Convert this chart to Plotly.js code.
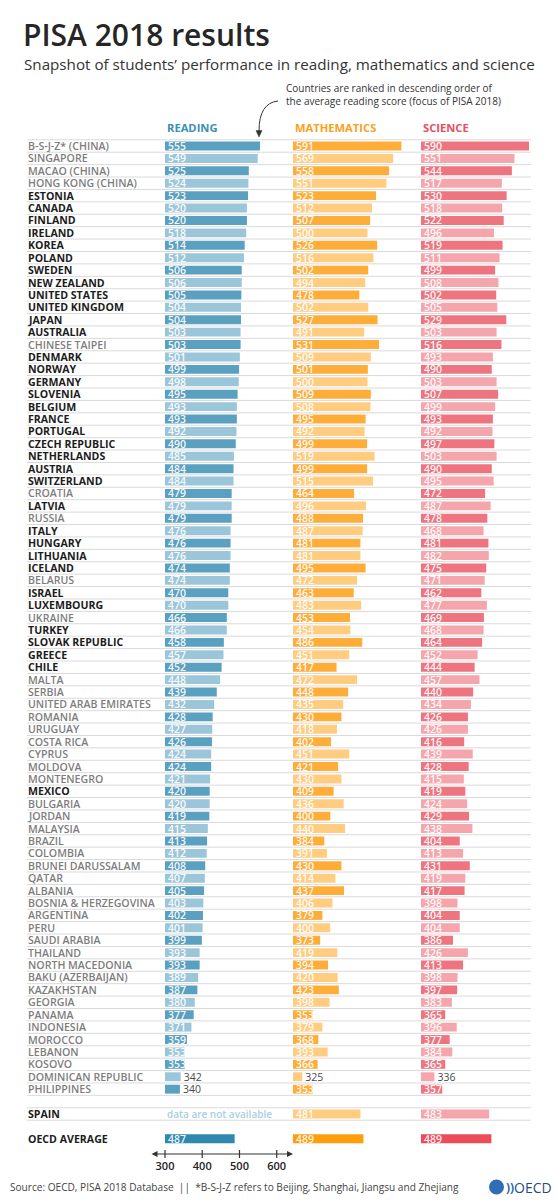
<!DOCTYPE html>
<html><head><meta charset="utf-8">
<script src="https://cdn.plot.ly/plotly-3.0.1.min.js"></script>
<style>html,body{margin:0;padding:0;background:#fff}</style>
</head><body><div id="chart" style="width:556px;height:1200px"></div>
<script>
// ---------------- DATA ----------------
const countries = ['B-S-J-Z* (CHINA)','SINGAPORE','MACAO (CHINA)','HONG KONG (CHINA)','ESTONIA','CANADA','FINLAND','IRELAND','KOREA','POLAND','SWEDEN','NEW ZEALAND','UNITED STATES','UNITED KINGDOM','JAPAN','AUSTRALIA','CHINESE TAIPEI','DENMARK','NORWAY','GERMANY','SLOVENIA','BELGIUM','FRANCE','PORTUGAL','CZECH REPUBLIC','NETHERLANDS','AUSTRIA','SWITZERLAND','CROATIA','LATVIA','RUSSIA','ITALY','HUNGARY','LITHUANIA','ICELAND','BELARUS','ISRAEL','LUXEMBOURG','UKRAINE','TURKEY','SLOVAK REPUBLIC','GREECE','CHILE','MALTA','SERBIA','UNITED ARAB EMIRATES','ROMANIA','URUGUAY','COSTA RICA','CYPRUS','MOLDOVA','MONTENEGRO','MEXICO','BULGARIA','JORDAN','MALAYSIA','BRAZIL','COLOMBIA','BRUNEI DARUSSALAM','QATAR','ALBANIA','BOSNIA & HERZEGOVINA','ARGENTINA','PERU','SAUDI ARABIA','THAILAND','NORTH MACEDONIA','BAKU (AZERBAIJAN)','KAZAKHSTAN','GEORGIA','PANAMA','INDONESIA','MOROCCO','LEBANON','KOSOVO','DOMINICAN REPUBLIC','PHILIPPINES'];
const reading = [555,549,525,524,523,520,520,518,514,512,506,506,505,504,504,503,503,501,499,498,495,493,493,492,490,485,484,484,479,479,479,476,476,476,474,474,470,470,466,466,458,457,452,448,439,432,428,427,426,424,424,421,420,420,419,415,413,412,408,407,405,403,402,401,399,393,393,389,387,380,377,371,359,353,353,342,340];
const mathematics = [591,569,558,551,523,512,507,500,526,516,502,494,478,502,527,491,531,509,501,500,509,508,495,492,499,519,499,515,464,496,488,487,481,481,495,472,463,483,453,454,486,451,417,472,448,435,430,418,402,451,421,430,409,436,400,440,384,391,430,414,437,406,379,400,373,419,394,420,423,398,353,379,368,393,366,325,353];
const science = [590,551,544,517,530,518,522,496,519,511,499,508,502,505,529,503,516,493,490,503,507,499,493,492,497,503,490,495,472,487,478,468,481,482,475,471,462,477,469,468,464,452,444,457,440,434,426,426,416,439,428,415,419,424,429,438,404,413,431,419,417,398,404,404,386,426,413,398,397,383,365,396,377,384,365,336,357];
const oecdMembers = ['ESTONIA','CANADA','FINLAND','IRELAND','KOREA','POLAND','SWEDEN','NEW ZEALAND','UNITED STATES','UNITED KINGDOM','JAPAN','AUSTRALIA','DENMARK','NORWAY','GERMANY','SLOVENIA','BELGIUM','FRANCE','PORTUGAL','CZECH REPUBLIC','NETHERLANDS','AUSTRIA','SWITZERLAND','LATVIA','ITALY','HUNGARY','LITHUANIA','ICELAND','ISRAEL','LUXEMBOURG','TURKEY','SLOVAK REPUBLIC','GREECE','CHILE','MEXICO','SPAIN','OECD AVERAGE'];
const extraRows = ['SPAIN','OECD AVERAGE'];
const extraReading = [null, 487];
const extraMathematics = [481, 489];
const extraScience = [483, 489];
const subjects = ['READING','MATHEMATICS','SCIENCE'];
const axisTicks = [300, 400, 500, 600];
const missingText = 'data are not available';
const noteLines = ['Countries are ranked in descending order of', 'the average reading score (focus of PISA 2018)'];
const titleText = 'PISA 2018 results';
const subtitleText = 'Snapshot of students\u2019 performance in reading, mathematics and science';
const sourceText = 'Source: OECD, PISA 2018 Database  ||  *B-S-J-Z refers to Beijing, Shanghai, Jiangsu and Zhejiang';

// ---------------- LAYOUT GEOMETRY ----------------
const W = 556, H = 1200;
const FONT = 'Open Sans, sans-serif';
const ROW0 = 146, PITCH = 12.41;
const X_MIN = 300, X_MAX = 641;
const PANEL_LEFT = [165, 293, 421], PANEL_W = 127;
const SCALE = PANEL_W / (X_MAX - X_MIN);
const px = v => v / W, py = v => 1 - v / H;

const palettes = [
  {dark:'#5aa0c0', light:'#9bc6da', avg:'#2f88ad', head:'#3b90b4'},
  {dark:'#ffad39', light:'#ffcc80', avg:'#ff9d0a', head:'#f8a11b'},
  {dark:'#ee7480', light:'#f5a6ad', avg:'#ec4c58', head:'#e8505c'}
];
const series = [reading, mathematics, science];
const extras = [extraReading, extraMathematics, extraScience];
const axisIds = ['x','x2','x3'];
const rows = countries.map((_, i) => i);
const extraPos = [countries.length + 1, countries.length + 3];

const traces = [];
series.forEach((vals, k) => {
  const pal = palettes[k];
  traces.push({
    type:'bar', orientation:'h', xaxis:axisIds[k], yaxis:'y',
    y: rows, x: vals.map(v => v - X_MIN), base: X_MIN,
    text: vals.map(String),
    textposition: vals.map(v => v < 345 ? 'outside' : 'inside'),
    insidetextanchor:'start', textangle:0, constraintext:'none', cliponaxis:false,
    insidetextfont:{family:FONT, size:10.5, color:'rgba(255,255,255,0.95)', weight:600},
    outsidetextfont:{family:FONT, size:10.5, color:'#4a4a4a', weight:500},
    marker:{color: rows.map(i => i % 2 === 0 ? pal.dark : pal.light), line:{width:0}},
    width:0.72, hoverinfo:'skip', showlegend:false
  });
  const ev = extras[k];
  traces.push({
    type:'bar', orientation:'h', xaxis:axisIds[k], yaxis:'y',
    y: extraPos, x: ev.map(v => v == null ? null : v - X_MIN), base: X_MIN,
    text: ev.map(v => v == null ? '' : String(v)),
    textposition:'inside', insidetextanchor:'start', textangle:0, constraintext:'none', cliponaxis:false,
    insidetextfont:{family:FONT, size:10.5, color:'rgba(255,255,255,0.95)', weight:600},
    marker:{color:[pal.light, pal.avg], line:{width:0}},
    width:0.72, hoverinfo:'skip', showlegend:false
  });
});
// bottom scale tick marks
traces.push({
  type:'scatter', mode:'markers', xaxis:'x4', yaxis:'y2',
  x: axisTicks, y: axisTicks.map(() => 0),
  marker:{symbol:'line-ns', size:7, color:'#333', line:{width:1.2, color:'#333'}},
  hoverinfo:'skip', showlegend:false
});

// ---------------- ANNOTATIONS ----------------
const annotations = [];
const allLabels = countries.concat(extraRows);
const allPos = rows.concat(extraPos);
allLabels.forEach((name, i) => {
  const member = oecdMembers.includes(name);
  annotations.push({
    xref:'paper', yref:'y', x:px(26), y:allPos[i], xanchor:'left', yanchor:'middle',
    text:name, showarrow:false,
    font:{family:FONT, size:10.6, color: member ? '#1c1c1c' : '#7d7d7d', weight: member ? 700 : 600}
  });
});
subjects.forEach((s, k) => {
  annotations.push({
    xref:'paper', yref:'paper', x:px(PANEL_LEFT[k]), y:py(127), xanchor:'left', yanchor:'middle',
    text:s, showarrow:false, font:{family:FONT, size:11.2, color:palettes[k].head, weight:700}
  });
});
annotations.push({
  xref:'paper', yref:'y', x:px(PANEL_LEFT[0]), y:extraPos[0], xanchor:'left', yanchor:'middle',
  text:missingText, showarrow:false, font:{family:FONT, size:10, color:'#a8cfe0', weight:600}
});
annotations.push({
  xref:'paper', yref:'paper', x:px(284), y:py(95), xanchor:'left', yanchor:'middle', align:'left',
  text:noteLines.join('<br>'), showarrow:false, font:{family:FONT, size:10, color:'#333', weight:500}
});
annotations.push({
  xref:'paper', yref:'paper', x:px(22), y:py(64), xanchor:'left', yanchor:'middle',
  text:subtitleText, showarrow:false, font:{family:FONT, size:15.2, color:'#333', weight:400}
});
annotations.push({
  xref:'paper', yref:'paper', x:px(8), y:py(1187), xanchor:'left', yanchor:'middle',
  text:sourceText, showarrow:false, font:{family:FONT, size:10.1, color:'#444'}
});
annotations.push({
  xref:'paper', yref:'paper', x:px(504), y:py(1187), xanchor:'left', yanchor:'middle',
  text:'))', showarrow:false, font:{family:FONT, size:12, color:'#2f6db5', weight:700}
});
annotations.push({
  xref:'paper', yref:'paper', x:px(512), y:py(1187), xanchor:'left', yanchor:'middle',
  text:'OECD', showarrow:false, font:{family:FONT, size:14, color:'#2b4a80', weight:400}
});
// scale axis line with arrows at both ends
annotations.push({
  xref:'paper', yref:'paper', x:px(293), y:py(1154), axref:'paper', ayref:'paper', ax:px(150), ay:py(1154),
  text:'', showarrow:true, arrowside:'end+start', arrowhead:2, arrowsize:1.2, arrowwidth:1, arrowcolor:'#333'
});

// ---------------- SHAPES ----------------
const shapes = [];
const lineRows = [-1].concat(rows).map(i => i + 0.5).concat([extraPos[0] - 0.5, extraPos[0] + 0.5]);
lineRows.forEach(y => {
  shapes.push({type:'line', layer:'below', xref:'paper', yref:'y', x0:px(27), x1:px(531), y0:y, y1:y,
    line:{color:'#dadada', width:1}});
});
const P = (x, y) => px(x) + ',' + py(y);
shapes.push({type:'path', xref:'paper', yref:'paper', path:'M' + P(278,101) + ' Q' + P(259,103) + ' ' + P(259,131),
  line:{color:'#333', width:1}});
shapes.push({type:'path', xref:'paper', yref:'paper', path:'M' + P(256,130.5) + ' L' + P(262,130.5) + ' L' + P(259,137) + ' Z',
  fillcolor:'#333', line:{color:'#333', width:0.5}});
shapes.push({type:'circle', xref:'paper', yref:'paper', x0:px(489), x1:px(504), y0:py(1179.5), y1:py(1194.5),
  fillcolor:'#2f6db5', line:{width:0}});

const layout = {
  width:W, height:H, margin:{l:0, r:0, t:0, b:0},
  paper_bgcolor:'#fff', plot_bgcolor:'rgba(0,0,0,0)', showlegend:false,
  title:{text:titleText, xref:'paper', yref:'paper', x:px(23), y:py(35), xanchor:'left', yanchor:'middle',
    font:{family:FONT, size:30, color:'#262626', weight:600}},
  xaxis:{domain:[px(PANEL_LEFT[0]), px(PANEL_LEFT[0] + PANEL_W)], range:[X_MIN, X_MAX], visible:false, fixedrange:true, anchor:'y'},
  xaxis2:{domain:[px(PANEL_LEFT[1]), px(PANEL_LEFT[1] + PANEL_W)], range:[X_MIN, X_MAX], visible:false, fixedrange:true, anchor:'y'},
  xaxis3:{domain:[px(PANEL_LEFT[2]), px(PANEL_LEFT[2] + PANEL_W)], range:[X_MIN, X_MAX], visible:false, fixedrange:true, anchor:'y'},
  yaxis:{domain:[0, 1], range:[(H - ROW0) / PITCH, -ROW0 / PITCH], visible:false, fixedrange:true, anchor:'x'},
  xaxis4:{domain:[px(150), px(293)], range:[X_MIN - 15 / SCALE, X_MIN + 128 / SCALE], anchor:'y2',
    tickvals:axisTicks, ticks:'', showline:false, showgrid:false, zeroline:false, fixedrange:true,
    tickfont:{family:FONT, size:11, color:'#222', weight:600}},
  yaxis2:{domain:[py(1158), py(1150)], range:[-1, 1], visible:false, fixedrange:true, anchor:'x4'},
  annotations:annotations, shapes:shapes
};
Plotly.newPlot('chart', traces, layout, {displayModeBar:false, staticPlot:true});
</script></body></html>
